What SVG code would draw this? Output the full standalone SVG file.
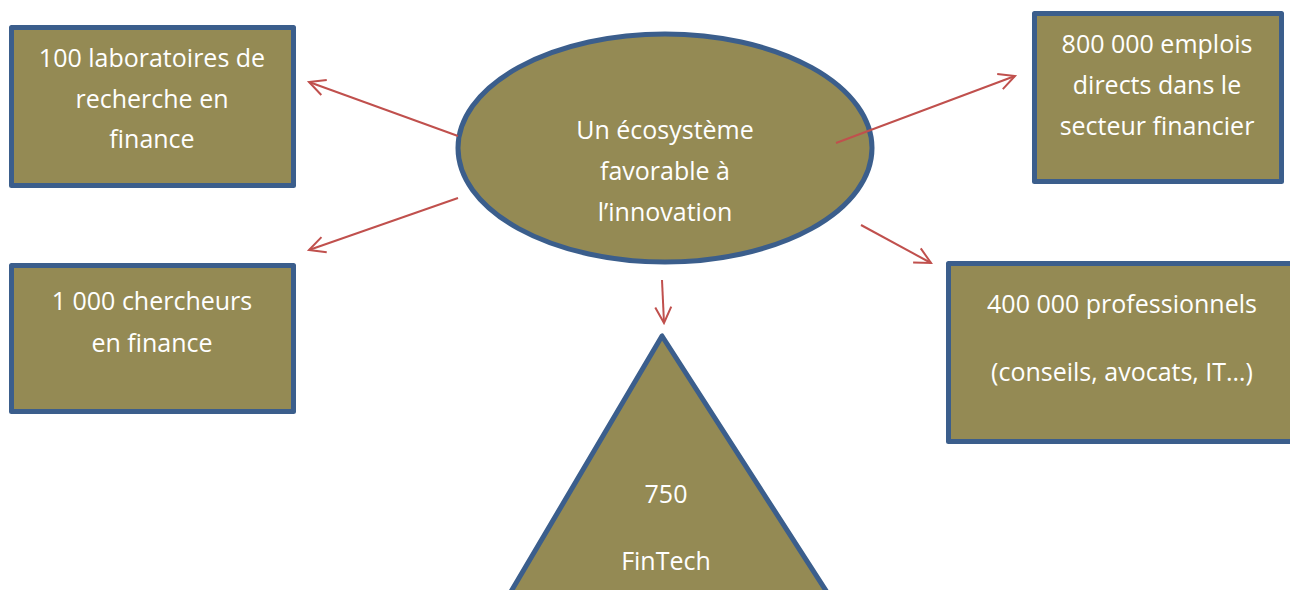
<svg xmlns="http://www.w3.org/2000/svg" width="1290" height="590" viewBox="0 0 1290 590">
<style>
.shape{fill:#948A54;stroke:#3B5E8C;stroke-width:5;stroke-linejoin:round}
.t{font-family:"Open Sans","Liberation Sans",sans-serif;font-size:25px;fill:#FFFFFF;text-anchor:middle}
.c{stroke:#C0504D;stroke-width:2;fill:none}
</style>
<defs>
<marker id="ah" viewBox="0 0 20 20" refX="18" refY="10" markerWidth="20" markerHeight="20" markerUnits="userSpaceOnUse" orient="auto">
<path d="M2,2 L18,10 L2,18" fill="none" stroke="#C0504D" stroke-width="2"/>
</marker>
</defs>
<rect width="1290" height="590" fill="#FFFFFF"/>
<g id="center">
<ellipse class="shape" cx="665" cy="148" rx="207" ry="114"/>
<text class="t" x="665" y="139">Un écosystème</text>
<text class="t" x="665" y="180">favorable à</text>
<text class="t" x="665" y="221">l’innovation</text>
</g>
<g id="labs">
<rect class="shape" x="11.5" y="27.5" width="282" height="158"/>
<text class="t" x="152" y="67">100 laboratoires de</text>
<text class="t" x="152" y="108">recherche en</text>
<text class="t" x="152" y="148">finance</text>
</g>
<g id="chercheurs">
<rect class="shape" x="11.5" y="265.5" width="282" height="146"/>
<text class="t" x="152" y="310">1 000 chercheurs</text>
<text class="t" x="152" y="352">en finance</text>
</g>
<g id="emplois">
<rect class="shape" x="1034.5" y="13.5" width="247" height="168"/>
<text class="t" x="1157" y="53">800 000 emplois</text>
<text class="t" x="1157" y="94">directs dans le</text>
<text class="t" x="1157" y="135">secteur financier</text>
</g>
<g id="professionnels">
<rect class="shape" x="948.5" y="263.5" width="350" height="178"/>
<text class="t" x="1122" y="313">400 000 professionnels</text>
<text class="t" x="1122" y="381">(conseils, avocats, IT…)</text>
</g>
<g id="fintech">
<polygon class="shape" points="662,336 506,600 832,600"/>
<text class="t" x="666" y="503">750</text>
<text class="t" x="666" y="570">FinTech</text>
</g>
<g id="connectors">
<line class="c" x1="458" y1="136" x2="309" y2="82" marker-end="url(#ah)"/>
<line class="c" x1="458" y1="198" x2="309" y2="250" marker-end="url(#ah)"/>
<line class="c" x1="836" y1="143" x2="1015" y2="76" marker-end="url(#ah)"/>
<line class="c" x1="861" y1="225" x2="931" y2="263" marker-end="url(#ah)"/>
<line class="c" x1="662" y1="280" x2="664" y2="323" marker-end="url(#ah)"/>
</g>
</svg>
